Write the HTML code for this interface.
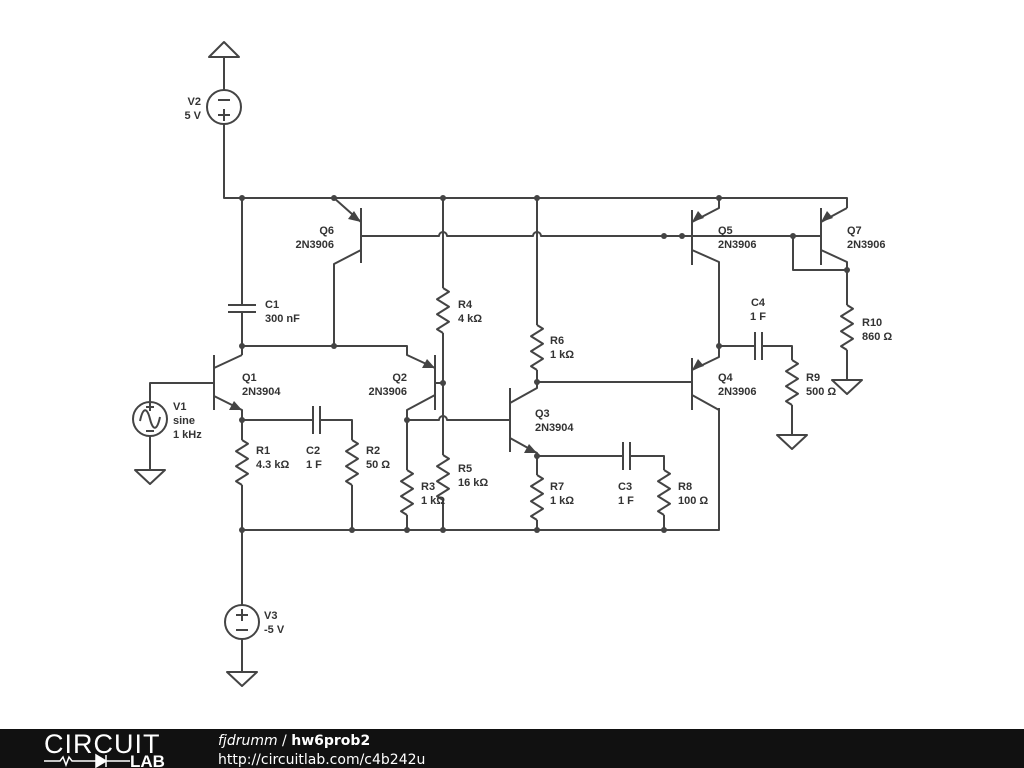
<!DOCTYPE html>
<html><head><meta charset="utf-8"><style>
html,body{margin:0;padding:0;background:#fff;}
svg{display:block}
.w{stroke:#444;stroke-width:2;fill:none;stroke-linejoin:round}
.t{font-family:"Liberation Sans",sans-serif;font-size:11px;font-weight:bold;fill:#333}
.d{fill:#444}
</style></head><body>
<svg width="1024" height="768" viewBox="0 0 1024 768" xmlns="http://www.w3.org/2000/svg">
<defs>
<path id="res" class="w" d="M0 0 l6 3.75 l-12 7.5 l12 7.5 l-12 7.5 l12 7.5 l-12 7.5 l6 3.75"/>
<path id="gnd" class="w" d="M-15 0 H15 L0 14 Z"/>
</defs>
<g class="w">
<path d="M209 57 H239 L224 42 Z"/>
<path d="M224 57 V90"/>
<circle cx="224" cy="107" r="17"/>
<path d="M218 100 H230 M218 115 H230 M224 109 V121"/>
<path d="M224 124 V198 H847 V208"/>
<path d="M242 198 V305 M228 305 H256 M228 312 H256 M242 312 V355"/>
<path d="M214 355 V410 M214 368 L242 355 M214 396 L242 410 V420"/>
<path d="M150 402 V383 H214"/>
<circle cx="150" cy="419" r="17"/>
<path d="M140 421 C143 407 147 407 150 419 C153 431 157 431 160 417"/>
<path d="M146 407 H154 M150 403 V411 M146 431 H154"/>
<path d="M150 436 V470"/>
<path d="M242 420 V440 M242 485 V530"/>
<path d="M242 420 H313 M313 406 V434 M320 406 V434 M320 420 H352 V440 M352 485 V530"/>
<path d="M242 530 H719 V408"/>
<path d="M242 530 V605"/>
<circle cx="242" cy="622" r="17"/>
<path d="M236 615 H248 M242 609 V621 M236 630 H248"/>
<path d="M242 639 V672"/>
<path d="M242 346 H407 V355 L435 368 M435 355 V410 M435 395 L407 410 V420"/>
<path d="M334 198 L361 222 M361 208 V263 M361 250 L334 264 V346"/>
<path d="M361 236 H439 A4 4 0 0 1 447 236 H533 A4 4 0 0 1 541 236 H692"/>
<path d="M692 236 H821 M793 236 V270 H847"/>
<path d="M443 198 V288 M443 333 V455 M443 500 V530"/>
<path d="M435 383 H443"/>
<path d="M407 420 H439 A4 4 0 0 1 447 420 H510"/>
<path d="M407 420 V470 M407 515 V530"/>
<path d="M510 388 V452 M510 403 L537 388 V382 M510 438 L537 453 V456"/>
<path d="M537 198 V325 M537 370 V382 H692"/>
<path d="M537 456 V475 M537 520 V530"/>
<path d="M537 456 H623 M623 442 V470 M630 442 V470 M630 456 H664 V470 M664 515 V530"/>
<path d="M692 358 V410 M719 346 V357 L692 370 M692 395 L719 410"/>
<path d="M719 346 H755 M755 332 V360 M762 332 V360 M762 346 H792 V360 M792 405 V435"/>
<path d="M692 210 V265 M719 198 V208 L692 222 M692 250 L719 262 V346"/>
<path d="M821 208 V265 M847 208 L821 222 M821 250 L847 262 V305 M847 350 V380"/>
</g>
<use href="#res" x="242" y="440"/>
<use href="#res" x="352" y="440"/>
<use href="#res" x="443" y="288"/>
<use href="#res" x="443" y="455"/>
<use href="#res" x="407" y="470"/>
<use href="#res" x="537" y="325"/>
<use href="#res" x="537" y="475"/>
<use href="#res" x="664" y="470"/>
<use href="#res" x="792" y="360"/>
<use href="#res" x="847" y="305"/>
<use href="#gnd" x="150" y="470"/>
<use href="#gnd" x="242" y="672"/>
<use href="#gnd" x="792" y="435"/>
<use href="#gnd" x="847" y="380"/>
<g class="d">
<polygon points="242,410 229,410 234,401"/>
<polygon points="537,453 524,453 529,444"/>
<polygon points="435,368 422,368 427,359"/>
<polygon points="361,222 348,219 354,211"/>
<polygon points="692,222 698,211 704,218"/>
<polygon points="821,222 827,211 833,218"/>
<polygon points="692,370 698,359 704,366"/>
</g>
<g class="d">
<circle cx="242" cy="198" r="3"/><circle cx="334" cy="198" r="3"/><circle cx="443" cy="198" r="3"/>
<circle cx="537" cy="198" r="3"/><circle cx="719" cy="198" r="3"/>
<circle cx="664" cy="236" r="3"/><circle cx="682" cy="236" r="3"/><circle cx="793" cy="236" r="3"/>
<circle cx="847" cy="270" r="3"/>
<circle cx="242" cy="346" r="3"/><circle cx="334" cy="346" r="3"/>
<circle cx="443" cy="383" r="3"/><circle cx="407" cy="420" r="3"/>
<circle cx="537" cy="382" r="3"/><circle cx="537" cy="456" r="3"/>
<circle cx="719" cy="346" r="3"/>
<circle cx="242" cy="420" r="3"/>
<circle cx="242" cy="530" r="3"/><circle cx="352" cy="530" r="3"/><circle cx="407" cy="530" r="3"/>
<circle cx="443" cy="530" r="3"/><circle cx="537" cy="530" r="3"/><circle cx="664" cy="530" r="3"/>
</g>
<g class="t">
<text x="201" y="105" text-anchor="end">V2</text><text x="201" y="119" text-anchor="end">5 V</text>
<text x="334" y="234" text-anchor="end">Q6</text><text x="334" y="248" text-anchor="end">2N3906</text>
<text x="265" y="308">C1</text><text x="265" y="322">300 nF</text>
<text x="458" y="308">R4</text><text x="458" y="322">4 kΩ</text>
<text x="550" y="344">R6</text><text x="550" y="358">1 kΩ</text>
<text x="242" y="381">Q1</text><text x="242" y="395">2N3904</text>
<text x="407" y="381" text-anchor="end">Q2</text><text x="407" y="395" text-anchor="end">2N3906</text>
<text x="173" y="410">V1</text><text x="173" y="424">sine</text><text x="173" y="438">1 kHz</text>
<text x="535" y="417">Q3</text><text x="535" y="431">2N3904</text>
<text x="256" y="454">R1</text><text x="256" y="468">4.3 kΩ</text>
<text x="306" y="454">C2</text><text x="306" y="468">1 F</text>
<text x="366" y="454">R2</text><text x="366" y="468">50 Ω</text>
<text x="458" y="472">R5</text><text x="458" y="486">16 kΩ</text>
<text x="421" y="490">R3</text><text x="421" y="504">1 kΩ</text>
<text x="550" y="490">R7</text><text x="550" y="504">1 kΩ</text>
<text x="618" y="490">C3</text><text x="618" y="504">1 F</text>
<text x="678" y="490">R8</text><text x="678" y="504">100 Ω</text>
<text x="718" y="234">Q5</text><text x="718" y="248">2N3906</text>
<text x="847" y="234">Q7</text><text x="847" y="248">2N3906</text>
<text x="758" y="306" text-anchor="middle">C4</text><text x="758" y="320" text-anchor="middle">1 F</text>
<text x="862" y="326">R10</text><text x="862" y="340">860 Ω</text>
<text x="718" y="381">Q4</text><text x="718" y="395">2N3906</text>
<text x="806" y="381">R9</text><text x="806" y="395">500 Ω</text>
<text x="264" y="619">V3</text><text x="264" y="633">-5 V</text>
</g>
<rect x="0" y="729" width="1024" height="39" fill="#111"/>
<text x="44" y="753" font-family="Liberation Sans,sans-serif" font-size="27" fill="#fff" letter-spacing="1">CIRCUIT</text>
<path d="M44 761 H60 l3 -4 l3 8 l3 -8 l3 4 H96" stroke="#fff" stroke-width="1.5" fill="none"/>
<path d="M96 755 V767 L106 761 Z M106 755 V767 M106 761 H130" stroke="#fff" stroke-width="1.5" fill="#fff"/>
<text x="130" y="767" font-family="Liberation Sans,sans-serif" font-size="17" font-weight="bold" fill="#fff">LAB</text>
<text x="218" y="745" font-family="DejaVu Sans,sans-serif" font-size="14" fill="#fff"><tspan font-style="italic">fjdrumm</tspan> / <tspan font-weight="bold">hw6prob2</tspan></text>
<text x="218" y="764" font-family="DejaVu Sans,sans-serif" font-size="14" fill="#fff">http://circuitlab.com/c4b242u</text>
</svg>
</body></html>
